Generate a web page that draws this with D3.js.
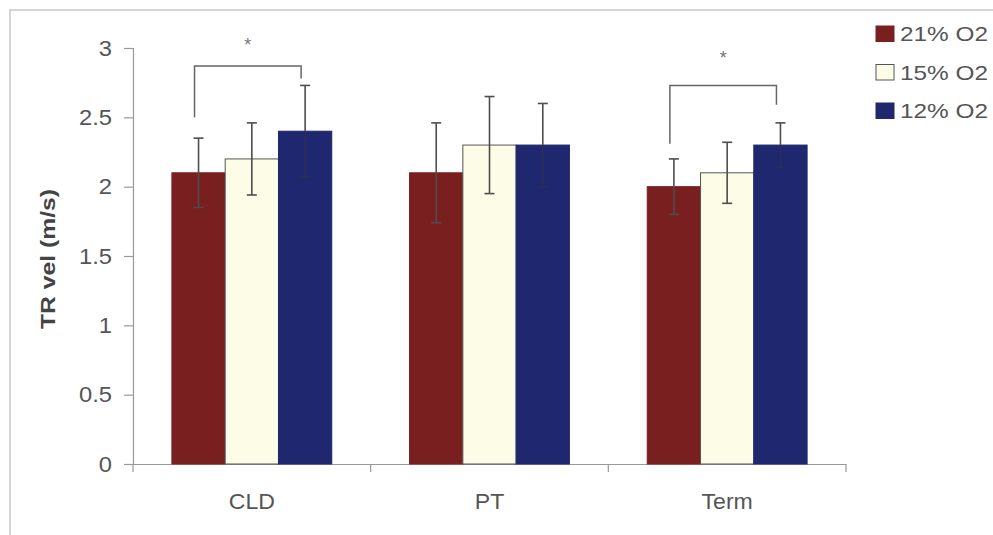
<!DOCTYPE html>
<html><head><meta charset="utf-8">
<script src="https://cdn.jsdelivr.net/npm/d3@7/dist/d3.min.js"></script>
<style>html,body{margin:0;padding:0;background:#fff;}svg{display:block;font-family:"Liberation Sans",Arial,sans-serif;}</style>
</head><body>
<svg id="c" width="993" height="535"></svg>
<script>
const categories = ["CLD", "PT", "Term"];
const seriesNames = ["21% O2", "15% O2", "12% O2"];
const seriesColors = ["#7a1f20", "#fdfde7", "#1f286f"];
const values21 = [2.1, 2.1, 2.0];
const values15 = [2.2, 2.3, 2.1];
const values12 = [2.4, 2.3, 2.3];
const err21 = [0.25, 0.36, 0.2];
const err15 = [0.26, 0.35, 0.22];
const err12 = [0.33, 0.3, 0.16];
const yTicks = [0, 0.5, 1, 1.5, 2, 2.5, 3];
const yTickLabels = ["0", "0.5", "1", "1.5", "2", "2.5", "3"];
const yTitle = "TR vel (m/s)";
// significance brackets
const sigCats = ["CLD", "Term"];
const sigLeftBottom = [2.5, 2.31];
const sigTop = [2.87, 2.73];
const sigRightBottom = [2.78, 2.59];
const sigStar = [3.05, 2.96];

const values = [values21, values15, values12];
const errs = [err21, err15, err12];

const svg = d3.select("#c");
const W = 993, H = 535;
const m = {left: 133, right: 147, top: 48, bottom: 71};

svg.append("path").attr("d", `M10,${H} L10,10 L${W},10`).attr("fill", "none").attr("stroke", "#c8c8c8").attr("stroke-width", 1.5);

const y = d3.scaleLinear().domain([0, 3]).range([H - m.bottom, m.top]);
const x0 = d3.scaleBand().domain(categories).range([m.left, W - m.right]).padding(0);
const x1 = d3.scaleBand().domain(seriesNames).range([0, x0.bandwidth()]).paddingInner(0).paddingOuter(0.73);

function stretch(sel, sx) {
  sel.each(function() {
    const len = this.getComputedTextLength();
    d3.select(this).attr("textLength", len * sx).attr("lengthAdjust", "spacingAndGlyphs");
  });
}

const yAxis = d3.axisLeft(y).tickValues(yTicks).tickFormat((d, i) => yTickLabels[i]).tickSize(9).tickPadding(12);
const gy = svg.append("g").attr("transform", `translate(${m.left},0)`).call(yAxis);
gy.select(".domain").attr("stroke", "#999").attr("stroke-width", 1.2);
gy.selectAll(".tick line").attr("stroke", "#999").attr("stroke-width", 1.2);
gy.selectAll(".tick text").attr("font-size", 22).attr("fill", "#555").attr("font-family", "Liberation Sans, Arial, sans-serif");
stretch(gy.selectAll(".tick text"), 1.08);

const xAxis = d3.axisBottom(x0).tickSize(0).tickPadding(29);
const gx = svg.append("g").attr("transform", `translate(0,${y(0)})`).call(xAxis);
gx.select(".domain").attr("stroke", "#999").attr("stroke-width", 1.2);
gx.selectAll(".tick text").attr("font-size", 22).attr("fill", "#555").attr("font-family", "Liberation Sans, Arial, sans-serif");
stretch(gx.selectAll(".tick text"), 1.05);
const bounds = [0].concat(categories.map(c => x0(c) + x0.bandwidth()));
gx.selectAll(".bnd").data(bounds).join("line").attr("class", "bnd")
  .attr("x1", (d, i) => i === 0 ? m.left : d).attr("x2", (d, i) => i === 0 ? m.left : d)
  .attr("y1", 0).attr("y2", 8).attr("stroke", "#999").attr("stroke-width", 1.2);

const groups = svg.append("g").selectAll("g").data(categories).join("g")
  .attr("transform", d => `translate(${x0(d)},0)`);
groups.each(function(cat, ci) {
  const g = d3.select(this);
  seriesNames.forEach((s, si) => {
    const v = values[si][ci];
    g.append("rect").attr("x", x1(s)).attr("width", x1.bandwidth())
      .attr("y", y(v)).attr("height", y(0) - y(v))
      .attr("fill", seriesColors[si]).attr("stroke", si === 1 ? "#555" : seriesColors[si]).attr("stroke-width", 1);
  });
  seriesNames.forEach((s, si) => {
    const v = values[si][ci], e = errs[si][ci];
    const cx = x1(s) + x1.bandwidth() / 2;
    const col = "#4d4d4d";
    g.append("line").attr("x1", cx).attr("x2", cx).attr("y1", y(v + e)).attr("y2", y(v)).attr("stroke", col).attr("stroke-width", 1.6);
    g.append("line").attr("x1", cx).attr("x2", cx).attr("y1", y(v)).attr("y2", y(v - e)).attr("stroke", si === 2 ? "#2a2f55" : col).attr("stroke-width", 1.6);
    [v + e, v - e].forEach((t, k) => {
      g.append("line").attr("x1", cx - 5).attr("x2", cx + 5).attr("y1", y(t)).attr("y2", y(t))
        .attr("stroke", (k === 1 && si === 2) ? "#2a2f55" : col).attr("stroke-width", 1.6);
    });
  });
});

sigCats.forEach((cat, i) => {
  const xa = x0(cat) + x1(seriesNames[0]) + x1.bandwidth() / 2 - 4;
  const xb = x0(cat) + x1(seriesNames[2]) + x1.bandwidth() / 2 - 4;
  svg.append("path")
    .attr("d", `M${xa},${y(sigLeftBottom[i])} L${xa},${y(sigTop[i])} L${xb},${y(sigTop[i])} L${xb},${y(sigRightBottom[i])}`)
    .attr("fill", "none").attr("stroke", "#666").attr("stroke-width", 1.5);
  svg.append("text").attr("x", (xa + xb) / 2).attr("y", y(sigStar[i]) + 10)
    .attr("text-anchor", "middle").attr("font-size", 18).attr("fill", "#777").text("*");
});

const yt = svg.append("text").attr("transform", `translate(55,259) rotate(-90)`)
  .attr("text-anchor", "middle").attr("font-size", 20).attr("font-weight", "bold").attr("fill", "#444").text(yTitle);
yt.attr("textLength", 140).attr("lengthAdjust", "spacingAndGlyphs");

const lg = svg.append("g").attr("transform", "translate(876,26)");
seriesNames.forEach((s, i) => {
  const row = lg.append("g").attr("transform", `translate(0,${i * 38.5})`);
  row.append("rect").attr("x", 0).attr("y", 0).attr("width", 18).attr("height", 15.5)
    .attr("fill", seriesColors[i]).attr("stroke", i === 1 ? "#555" : seriesColors[i]).attr("stroke-width", 1);
  const t = row.append("text").attr("x", 24).attr("y", 15).attr("font-size", 21).attr("fill", "#555").text(s);
  t.attr("textLength", 88).attr("lengthAdjust", "spacingAndGlyphs");
});
</script>
</body></html>
